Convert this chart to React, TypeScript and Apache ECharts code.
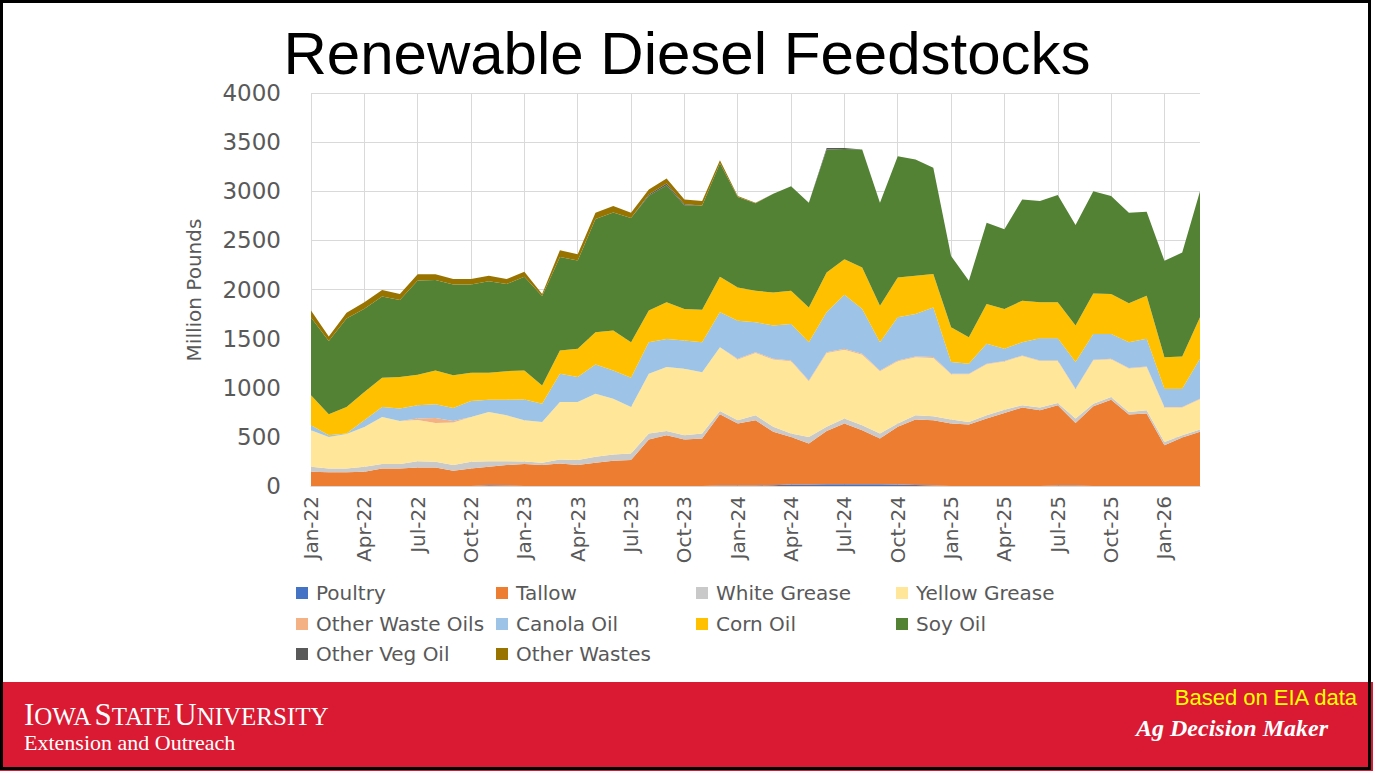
import React, { useEffect, useRef } from 'react';
import * as echarts from 'echarts';

const categories = [
  'Jan-22','Feb-22','Mar-22','Apr-22','May-22','Jun-22','Jul-22','Aug-22','Sep-22','Oct-22','Nov-22','Dec-22',
  'Jan-23','Feb-23','Mar-23','Apr-23','May-23','Jun-23','Jul-23','Aug-23','Sep-23','Oct-23','Nov-23','Dec-23',
  'Jan-24','Feb-24','Mar-24','Apr-24','May-24','Jun-24','Jul-24','Aug-24','Sep-24','Oct-24','Nov-24','Dec-24',
  'Jan-25','Feb-25','Mar-25','Apr-25','May-25','Jun-25','Jul-25','Aug-25','Sep-25','Oct-25','Nov-25','Dec-25',
  'Jan-26','Feb-26','Mar-26'
];

const yTicks = { min: 0, max: 4000, step: 500 };

const poultry = [0,0,0,0,0,0,0,0,0,0,8,5, 0,0,0,0,0,0,0,0,0,0,0,5, 5,5,8,15,15,18,18,18,18,15,10,5, 0,0,0,0,0,0,5,5,0,0,0,0, 0,0,0];
const tallow = [145,140,140,145,179,179,189,189,155,179,188,208, 223,213,230,213,236,257,264,473,517,473,483,725, 630,664,543,485,418,543,617,550,465,587,666,664, 635,625,686,744,798,771,816,637,811,879,727,737, 416,494,551];
const whiteGrease = [51,39,39,51,44,44,64,58,58,68,57,40, 27,23,40,51,61,64,67,61,44,44,51,34, 34,51,51,34,67,41,51,50,51,33,44,41, 41,27,34,33,23,27,24,44,27,27,27,34, 33,23,24];
const yellowGrease = [372,321,351,405,480,439,418,395,434,456,501,467, 420,416,585,591,643,568,473,609,649,676,625,649, 618,634,685,736,567,752,702,719,634,635,590,594, 462,485,519,489,502,475,428,299,441,384,441,441, 350,282,309];
const otherWasteOils = [0,0,0,0,0,0,15,50,15,0,0,0, 0,0,0,0,0,0,0,0,0,0,0,0, 8,8,8,8,8,8,8,8,8,8,8,8, 5,5,5,5,5,5,5,5,5,5,5,5, 5,5,5];
const canolaOil = [51,17,4,68,101,126,135,139,132,162,125,159, 210,186,288,254,297,287,298,321,287,287,305,355, 388,304,338,372,388,406,551,457,287,439,433,506, 118,102,203,125,135,226,226,271,264,253,263,281, 186,186,406];
const cornOil = [304,213,270,288,298,321,311,345,332,288,274,290, 296,186,236,287,328,406,362,321,372,322,331,361, 338,321,337,337,355,405,362,422,372,405,389,339, 354,270,405,406,423,365,365,372,412,406,396,439, 321,328,422];
const soyOil = [792,746,900,847,827,785,959,920,925,898,931,887, 954,910,951,898,1152,1202,1263,1168,1191,1055,1060,1157, 920,891,1004,1065,1065,1253,1122,1200,1048,1234,1183,1081, 727,575,828,811,1031,1031,1092,1024,1041,997,923,855, 981,1058,1284];
const otherVegOil = [0,0,0,0,0,0,0,0,0,0,0,0, 0,0,0,0,0,0,0,15,20,10,0,0, 0,0,0,0,0,15,10,0,0,0,0,0, 0,0,0,0,0,0,0,0,0,0,0,0, 0,0,0];
const otherWastes = [70,45,60,65,65,60,65,60,55,55,55,50, 50,20,70,65,65,65,55,50,50,50,45,30, 10,5,0,0,0,0,0,0,0,0,0,0, 0,0,0,0,0,0,0,0,0,0,0,0, 0,0,0];

const seriesNames = ['Poultry','Tallow','White Grease','Yellow Grease','Other Waste Oils','Canola Oil','Corn Oil','Soy Oil','Other Veg Oil','Other Wastes'];
const seriesValues = [poultry, tallow, whiteGrease, yellowGrease, otherWasteOils, canolaOil, cornOil, soyOil, otherVegOil, otherWastes];
const seriesColors = ['#4472C4','#ED7D31','#C9C9C9','#FFE699','#F4B183','#9DC3E6','#FFC000','#548235','#595959','#997300'];

export default function App() {
  const ref = useRef<HTMLDivElement>(null);
  useEffect(() => {
    document.body.style.margin = '0';
    const chart = echarts.init(ref.current as HTMLDivElement, null, { renderer: 'svg' });
    const legendCols = [296, 496, 696, 896];
    const legendRows = [583, 614, 644];
    const legends = seriesNames.map((name, i) => ({
      data: [name],
      left: legendCols[i % 4],
      top: legendRows[Math.floor(i / 4)],
      padding: 0,
      itemWidth: 12,
      itemHeight: 12,
      icon: 'rect',
      selectedMode: false,
      textStyle: { fontFamily: 'DejaVu Sans', fontSize: 20, color: '#595959', padding: [0, 0, 0, 3] },
    }));
    const option: any = {
      animation: false,
      backgroundColor: '#ffffff',
      grid: { left: 311, right: 173, top: 93, bottom: 285, containLabel: false },
      legend: legends,
      xAxis: {
        type: 'category',
        data: categories,
        boundaryGap: false,
        axisLine: { show: true, lineStyle: { color: '#d9d9d9' } },
        axisTick: { show: false },
        axisLabel: { interval: 2, rotate: 90, fontSize: 20, color: '#595959', fontFamily: 'DejaVu Sans', margin: 10 },
        splitLine: { show: true, interval: 2, lineStyle: { color: '#d9d9d9', width: 1 } },
      },
      yAxis: {
        type: 'value',
        min: yTicks.min,
        max: yTicks.max,
        interval: yTicks.step,
        axisLine: { show: false },
        axisTick: { show: false },
        axisLabel: {
          fontSize: 23,
          color: '#595959',
          fontFamily: 'DejaVu Sans',
          margin: 30,
          formatter: (v: number) => String(v),
        },
        splitLine: { lineStyle: { color: '#d9d9d9', width: 1 } },
      },
      series: seriesNames.map((name, i) => ({
        name,
        type: 'line',
        stack: 'total',
        data: seriesValues[i],
        symbol: 'none',
        showSymbol: false,
        lineStyle: { width: 0 },
        itemStyle: { color: seriesColors[i] },
        areaStyle: { color: seriesColors[i], opacity: 1 },
        emphasis: { disabled: true },
        silent: true,
      })),
      graphic: [
        {
          type: 'text',
          x: 687,
          y: 53,
          style: {
            text: 'Renewable Diesel Feedstocks',
            fontFamily: 'Liberation Sans',
            fontSize: 60,
            fill: '#000000',
            align: 'center',
            verticalAlign: 'middle',
          },
        },
        {
          type: 'text',
          x: 194,
          y: 290,
          rotation: Math.PI / 2,
          style: {
            text: 'Million Pounds',
            fontFamily: 'DejaVu Sans',
            fontSize: 20,
            fill: '#595959',
            align: 'center',
            verticalAlign: 'middle',
          },
        },
        {
          type: 'rect',
          shape: { x: 0, y: 682, width: 1373, height: 89 },
          style: { fill: '#D91A32' },
        },
        {
          type: 'text',
          x: 24,
          y: 730,
          style: {
            text: '{b|I}{s|OWA} {b|S}{s|TATE} {b|U}{s|NIVERSITY}',
            fill: '#ffffff',
            align: 'left',
            verticalAlign: 'bottom',
            rich: {
              b: { fontFamily: 'Liberation Serif', fontSize: 31, fill: '#ffffff', verticalAlign: 'bottom', lineHeight: 31 },
              s: { fontFamily: 'Liberation Serif', fontSize: 25, fill: '#ffffff', verticalAlign: 'bottom', lineHeight: 31, padding: [0, 0, 1, 0] },
            },
          },
        },
        {
          type: 'text',
          x: 24,
          y: 742,
          style: {
            text: 'Extension and Outreach',
            fontFamily: 'Liberation Serif',
            fontSize: 22,
            fill: '#ffffff',
            align: 'left',
            verticalAlign: 'middle',
          },
        },
        {
          type: 'text',
          x: 1357,
          y: 697,
          style: {
            text: 'Based on EIA data',
            fontFamily: 'Liberation Sans',
            fontSize: 22,
            fill: '#FFFF00',
            align: 'right',
            verticalAlign: 'middle',
          },
        },
        {
          type: 'text',
          x: 1328,
          y: 728,
          style: {
            text: 'Ag Decision Maker',
            fontFamily: 'Liberation Serif',
            fontSize: 24,
            fontWeight: 'bold',
            fontStyle: 'italic',
            fill: '#ffffff',
            align: 'right',
            verticalAlign: 'middle',
          },
        },
        {
          type: 'rect',
          shape: { x: 1.5, y: 1.5, width: 1368, height: 767 },
          style: { fill: 'none', stroke: '#000000', lineWidth: 3 },
          silent: true,
        },
      ],
    };
    chart.setOption(option);
    return () => chart.dispose();
  }, []);
  return <div ref={ref} style={{ width: 1373, height: 771, overflow: 'hidden' }} />;
}
